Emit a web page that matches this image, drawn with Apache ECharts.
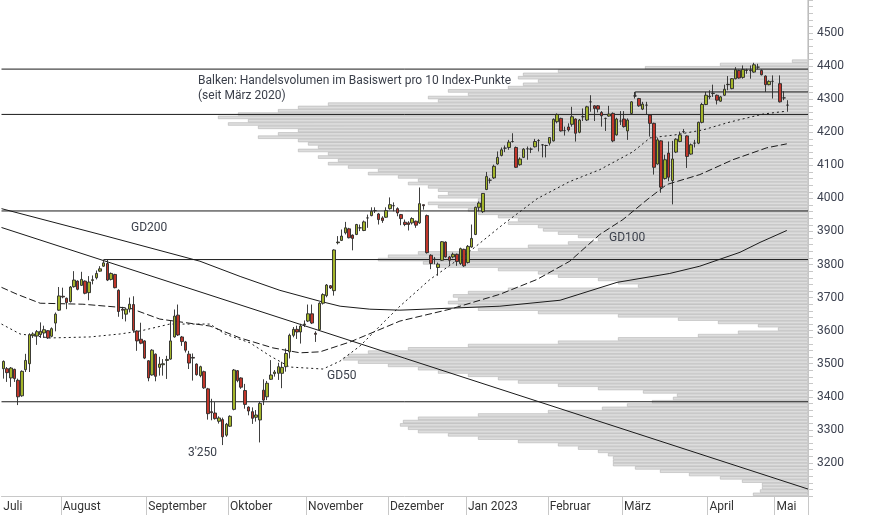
<!DOCTYPE html>
<html><head><meta charset="utf-8">
<script src="https://cdn.jsdelivr.net/npm/echarts/dist/echarts.min.js"></script>
<style>html,body{margin:0;padding:0;background:#fff}#c{width:874px;height:515px}</style>
</head><body><div id="c"></div><script>
// ---- x axis: trading-day slots, month labels ----
const monthNames = ['Juli','August','September','Oktober','November','Dezember','Jan 2023','Februar','März','April','Mai'];
const monthStart = [0,16,39,61,82,104,125,147,167,190,208];
const slotCount = 217;

// ---- candles (Jul 2022 .. 4 May 2023), May 1 = empty slot ----
const opens = [
3485,3485,3457,3483,3450,3403,3482,3500,3585,3584,3588,3593,3600,3583,3623,3662,
3704,3698,3688,3733,3750,3737,3750,3715,3752,3760,3780,3795,3803,3755,3770,3722,3665,3650,3665,3679,3599,3574,3569,
3509,3466,3529,3489,3497,3510,3514,3581,3647,3581,3566,3529,3519,3499,3464,3476,3424,3355,3351,3326,3331,3284,
3311,3362,3479,3457,3419,3369,3355,3338,3330,3420,3400,3453,3470,3471,3471,3491,3536,3586,3604,3596,3618,
3629,3651,3592,3603,3683,3706,3736,3721,3866,3873,3896,3908,3889,3891,3911,3903,3941,3948,3963,3953,3941,3943,
3969,3978,3969,3951,3928,3926,3926,3931,3926,3981,3948,3828,3816,3791,3813,3868,3823,3823,3831,3803,3846,
3806,3853,3891,3973,3960,4027,4055,4062,4104,4130,4152,4154,4172,4154,4102,4124,4150,4149,4156,4175,4162,4160,
4167,4174,4232,4242,4205,4216,4224,4240,4200,4247,4237,4292,4280,4280,4260,4242,4249,4257,4192,4234,
4240,4204,4257,4310,4302,4270,4282,4252,4227,4104,4174,4060,4137,4054,4140,4172,4202,4189,4134,4167,4167,4230,4284,
4307,4317,4312,4294,4312,4344,4332,4362,4387,4366,4387,4387,4382,4397,4387,4370,4344,4354,
null,4347,4304,4282];
const closes = [
3507,3473,3487,3455,3400,3477,3510,3588,3590,3597,3598,3603,3578,3606,3650,3705,
3702,3685,3732,3753,3725,3755,3713,3747,3754,3773,3787,3805,3753,3773,3730,3658,3662,3665,3680,3601,3569,3562,3517,
3457,3541,3462,3499,3500,3513,3569,3644,3587,3567,3541,3502,3517,3467,3491,3427,3349,3352,3334,3336,3279,3317,
3341,3481,3449,3429,3377,3357,3335,3345,3380,3390,3441,3466,3475,3491,3489,3531,3586,3604,3596,3614,3620,
3651,3623,3589,3683,3709,3738,3729,3844,3868,3886,3911,3881,3879,3921,3911,3929,3941,3961,3963,3936,3933,3963,
3981,3978,3956,3939,3921,3921,3939,3919,3984,3978,3836,3803,3816,3801,3869,3823,3813,3831,3809,3848,3796,
3855,3879,3973,3986,4015,4066,4055,4097,4124,4147,4152,4170,4172,4094,4119,4149,4150,4149,4172,4175,4162,4160,
4184,4239,4254,4204,4205,4207,4247,4197,4237,4247,4277,4292,4272,4270,4250,4242,4255,4174,4240,4234,
4217,4237,4292,4310,4280,4285,4282,4227,4094,4177,4034,4117,4064,4119,4179,4192,4202,4127,4162,4167,4230,4284,4312,
4309,4318,4297,4307,4330,4345,4362,4389,4364,4390,4388,4386,4404,4397,4374,4344,4354,4354,
null,4292,4304,4282];
const lows = [
3455,3445,3430,3445,3375,3400,3475,3475,3578,3557,3578,3578,3575,3580,3598,3660,
3698,3665,3685,3730,3722,3735,3710,3692,3740,3755,3778,3793,3750,3752,3728,3642,3635,3628,3655,3594,3539,3559,3514,
3447,3464,3447,3464,3464,3454,3512,3579,3584,3554,3534,3484,3449,3464,3459,3424,3331,3329,3331,3319,3254,3279,
3309,3359,3444,3424,3364,3344,3318,3325,3262,3375,3390,3451,3461,3451,3426,3476,3516,3580,3575,3561,3611,
3626,3620,3566,3601,3679,3701,3726,3706,3861,3871,3891,3879,3843,3889,3901,3901,3911,3946,3956,3921,3926,3941,
3966,3961,3946,3919,3916,3903,3921,3911,3923,3966,3833,3786,3801,3766,3811,3821,3799,3819,3796,3799,3793,
3803,3851,3889,3961,3956,4025,4045,4059,4102,4127,4140,4147,4169,4092,4099,4122,4117,4137,4154,4142,4124,4124,
4160,4172,4227,4202,4190,4202,4217,4172,4197,4234,4234,4262,4234,4260,4217,4204,4247,4170,4190,4222,
4214,4177,4254,4302,4277,4267,4254,4187,4072,4102,4017,4057,4052,3982,4137,4170,4197,4092,4132,4154,4164,4227,4282,
4300,4307,4284,4292,4310,4327,4330,4360,4362,4362,4377,4362,4380,4390,4372,4322,4342,4302,
null,4290,4297,4262];
const highs = [
3510,3490,3490,3485,3455,3480,3530,3592,3595,3602,3625,3615,3602,3610,3655,3732,
3730,3700,3735,3780,3752,3778,3752,3765,3767,3782,3795,3815,3815,3776,3772,3725,3672,3670,3700,3704,3601,3624,3571,
3511,3544,3531,3521,3514,3524,3629,3664,3679,3584,3569,3539,3531,3501,3494,3479,3427,3394,3384,3341,3337,3321,
3344,3484,3481,3459,3439,3371,3368,3360,3385,3453,3448,3511,3481,3503,3506,3546,3591,3611,3615,3621,3631,
3679,3679,3598,3686,3713,3741,3738,3846,3886,3906,3929,3911,3891,3923,3921,3933,3951,3973,3973,3956,3946,3973,
4003,3988,3973,3953,3936,3931,3943,3933,4033,3981,3951,3831,3823,3806,3871,3870,3826,3836,3833,3851,3848,
3859,3921,3975,3991,4016,4080,4062,4102,4142,4154,4160,4177,4197,4157,4124,4152,4157,4154,4180,4179,4164,4162,
4184,4242,4257,4244,4217,4227,4277,4242,4240,4272,4280,4312,4282,4282,4264,4244,4280,4260,4244,4264,
4264,4242,4294,4322,4304,4292,4292,4254,4229,4184,4176,4132,4172,4174,4182,4202,4210,4191,4166,4177,4232,4289,4322,
4327,4344,4314,4310,4344,4370,4364,4397,4389,4402,4392,4402,4410,4407,4390,4372,4357,4372,
null,4372,4324,4297];

// ---- moving averages: day index / value ----
const gd200Idx = [-0.5,26,52.9,63.7,74.4,85.2,90.6,98.6,106.7,120.2,133.6,149.8,165.1,179.3,187.4,198.2,203.6,210.8];
const gd200Val = [3969,3891,3810,3764,3722,3689,3674,3665,3662,3668,3674,3692,3746,3773,3795,3837,3867,3903];
const gd100Idx = [-0.5,3.7,9.9,21.4,34.1,42.1,55.6,63.7,72.5,79.8,85.2,93.3,106.7,120.2,133.6,143.6,152.4,160.5,166.7,173.2,178.5,187.4,196.3,205.4,210.8];
const gd100Val = [3731,3710,3683,3680,3668,3635,3614,3578,3548,3533,3536,3566,3629,3665,3710,3755,3810,3891,3936,3996,4042,4072,4117,4153,4165];
const gd50Idx = [-0.5,4.5,12.5,23.3,31.4,36.8,44.8,55.6,59.6,66.4,71.7,77.1,86,90.6,96,101.3,106.7,114.8,125.5,134.4,143.6,152.4,160.5,169.4,174,180.7,188.2,195.5,204.4,210.8];
const gd50Val = [3620,3590,3578,3581,3590,3599,3620,3620,3590,3563,3524,3490,3484,3508,3554,3614,3674,3755,3840,3921,3999,4051,4087,4141,4183,4192,4207,4231,4255,4264];

// ---- horizontal levels and trend line ----
const fullLevels = [4391, 4254, 3962, 3385];
const augHigh = {from: 27, value: 3815};
const marHigh = {from: 170, value: 4322, tickLow: 4307};
const trendIdx = [-0.5, 216.5];
const trendVal = [3912, 3121];

// ---- volume profile per 10 index points, bands from 3100 upward ----
const profileBase = 3100;
const profileVolume = [
55,48,46,46,66,88,119,148,173,195,
195,195,200,210,230,250,290,330,360,390,
400,408,405,390,330,260,206,181,156,135,
131,165,210,250,290,310,340,370,390,420,
450,465,460,440,400,340,250,190,110,70,
30,50,90,130,190,270,330,350,360,350,
355,340,300,170,190,210,250,270,310,370,
385,430,420,390,330,280,240,210,230,250,
265,270,300,290,310,330,340,370,380,330,
370,360,370,380,400,390,410,440,430,460,
480,470,490,480,510,490,500,510,550,530,
510,550,580,560,590,570,530,510,480,370,
380,340,360,300,285,270,290,285,250,163,
88,16];

// ---- build ----
const slotNames = [];
for (let i = 0; i < slotCount; i++) slotNames.push('d' + i);
const candleData = opens.map((o, i) => o === null ? '-' : [o, closes[i], lows[i], highs[i]]);
const bandNames = [];
const bandData = [];
for (let p = 3100; p < 4600; p += 10) {
  bandNames.push(String(p));
  const k = (p - profileBase) / 10;
  bandData.push(k < profileVolume.length ? profileVolume[k] : 0);
}
const pairs = (xs, ys) => xs.map((x, i) => [x, ys[i]]);
const X0 = -0.5, X1 = slotCount - 0.5;
const lineCol = '#1a1a1a';
function lineSeries(data, type, z) {
  return {type: 'line', xAxisIndex: 1, yAxisIndex: 0, data: data, symbol: 'none', silent: true,
    lineStyle: {color: lineCol, width: 1, type: type || 'solid'}, z: z || 4, animation: false};
}
const series = [
  {type: 'bar', xAxisIndex: 2, yAxisIndex: 1, data: bandData, barCategoryGap: '0%', silent: true, z: 1,
   itemStyle: {color: '#dddddd', borderColor: '#b4b4b4', borderWidth: 0.6}}
];
fullLevels.forEach(v => series.push(lineSeries([[X0, v], [X1, v]], 'solid', 3)));
series.push(lineSeries([[augHigh.from, augHigh.value], [X1, augHigh.value]], 'solid', 3));
series.push(lineSeries([[marHigh.from, marHigh.tickLow], [marHigh.from, marHigh.value], [X1, marHigh.value]], 'solid', 3));
series.push(lineSeries(pairs(trendIdx, trendVal), 'solid', 3));
series.push(lineSeries(pairs(gd200Idx, gd200Val), 'solid', 4));
series.push(lineSeries(pairs(gd100Idx, gd100Val), [7, 3], 4));
series.push(lineSeries(pairs(gd50Idx, gd50Val), [2, 3], 4));
series.push({type: 'candlestick', xAxisIndex: 0, yAxisIndex: 0, data: candleData, barWidth: 3, z: 10, silent: true,
  itemStyle: {color: '#a3b52a', color0: '#c1352a', borderColor: '#2a2a2a', borderColor0: '#2a2a2a', borderColorDoji: '#2a2a2a', borderWidth: 0.9}});

const fam = 'Roboto, "Open Sans", sans-serif';
const font = '12px ' + fam;
const txtCol = '#3a3f4a';
const notes = [
  {t: 'Balken: Handelsvolumen im Basiswert pro 10 Index-Punkte', x: 198, y: 83},
  {t: '(seit März 2020)', x: 198, y: 98},
  {t: 'GD200', x: 131, y: 230},
  {t: 'GD100', x: 609, y: 240},
  {t: 'GD50', x: 327, y: 378},
  {t: "3'250", x: 188, y: 455}
];
const hidden = {show: false, axisLine: {show: false, onZero: false}, axisTick: {show: false}, axisLabel: {show: false}, splitLine: {show: false}, minorTick: {show: false}, minorSplitLine: {show: false}};

const chart = echarts.init(document.getElementById('c'), null, {renderer: 'canvas'});
chart.setOption({
  animation: false,
  backgroundColor: '#fff',
  grid: [
    {left: 1.5, width: 806.5, top: -2, height: 498},
    {left: 1.5, width: 806.5, top: -2, height: 498}
  ],
  xAxis: [
    {type: 'category', gridIndex: 0, data: slotNames, boundaryGap: true,
     axisLine: {show: true, onZero: false, lineStyle: {color: '#c8c8c8', width: 1}},
     axisTick: {show: true, length: 20, interval: (i) => monthStart.indexOf(i) > 0, lineStyle: {color: '#c8c8c8'}},
     axisLabel: {show: true, interval: (i) => monthStart.indexOf(i) >= 0, align: 'left', margin: 5,
       formatter: (v, i) => monthNames[monthStart.indexOf(i)] || '', color: '#333', fontSize: 12, fontFamily: fam},
     splitLine: {show: false}},
    Object.assign({type: 'value', gridIndex: 0, min: X0, max: X1}, hidden),
    Object.assign({type: 'value', gridIndex: 1, min: 0, max: 806.5, inverse: true}, hidden)
  ],
  yAxis: [
    {type: 'value', gridIndex: 0, position: 'right', min: 3100, max: 4600, interval: 100,
     axisLine: {show: true, onZero: false, lineStyle: {color: '#c8c8c8'}},
     axisTick: {show: true, length: 5, lineStyle: {color: '#c8c8c8'}},
     minorTick: {show: true, splitNumber: 5, length: 5, lineStyle: {color: '#c8c8c8'}},
     axisLabel: {show: true, showMinLabel: false, showMaxLabel: false, margin: 9, color: '#3d4250', fontSize: 12,
       fontFamily: fam, formatter: (v) => String(v)},
     splitLine: {show: false}},
    Object.assign({type: 'category', gridIndex: 1, data: bandNames, boundaryGap: true}, hidden)
  ],
  series: series,
  graphic: notes.map(n => ({type: 'text', left: n.x, top: n.y - 8, silent: true, z: 20,
    style: {text: n.t, font: font, fill: txtCol}}))
});
</script></body></html>
